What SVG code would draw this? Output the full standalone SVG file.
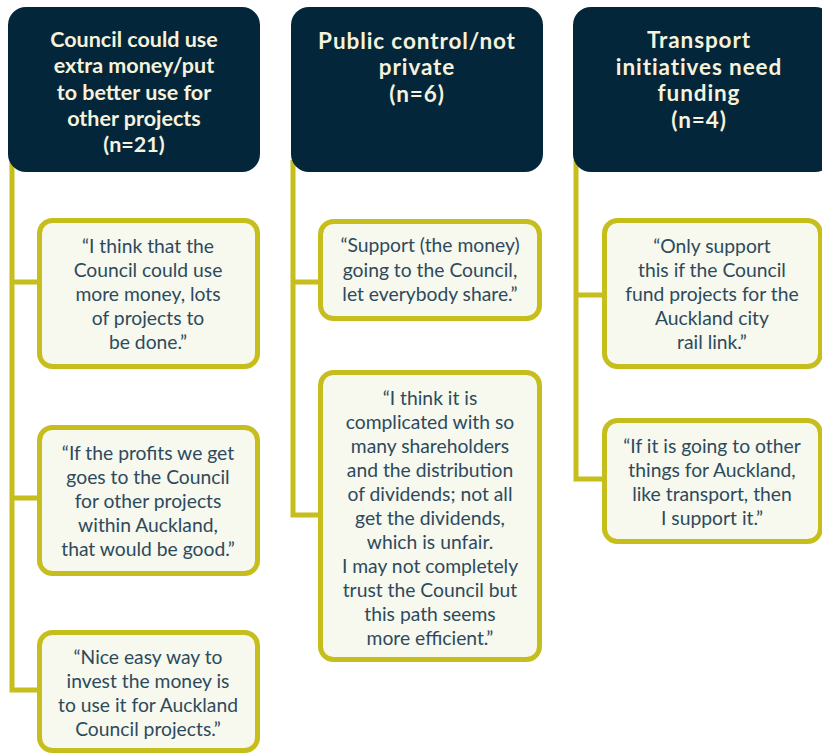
<svg xmlns="http://www.w3.org/2000/svg" width="822" height="755" viewBox="0 0 822 755">
<style>
.hdr{fill:#03263b}
.ht{font-family:Lato,"Open Sans","Liberation Sans",sans-serif;font-weight:700;font-size:21.5px;fill:#f6f2dc;text-anchor:middle}
.hb{font-size:22.5px;letter-spacing:0.9px}
.qb{fill:#f7f8ee;stroke:#c6be1c;stroke-width:5}
.qt{font-family:Lato,"Open Sans","Liberation Sans",sans-serif;font-weight:400;font-size:19.3px;fill:#2d4a5d;text-anchor:middle}
.ln{fill:none;stroke:#c6be1c;stroke-width:5;stroke-linejoin:miter}
</style>
<rect width="822" height="755" fill="#ffffff"/>
<g id="connectors">
<path class="ln" d="M12,160 V690 H40 M12,282 H40 M12,498 H40"/>
<path class="ln" d="M293,160 V515 H321 M293,282 H321"/>
<path class="ln" d="M576,160 V479 H605 M576,295 H605"/>
</g>
<g id="h1">
<rect class="hdr" x="8" y="7" width="252" height="165" rx="18"/>
<text class="ht"><tspan x="134" y="47">Council could use</tspan><tspan x="134" y="73">extra money/put</tspan><tspan x="134" y="100">to better use for</tspan><tspan x="134" y="126">other projects</tspan><tspan x="134" y="152">(n=21)</tspan></text>
</g>
<g id="h2">
<rect class="hdr" x="291" y="7" width="252" height="165" rx="18"/>
<text class="ht hb"><tspan x="417" y="49">Public control/not</tspan><tspan x="417" y="75">private</tspan><tspan x="417" y="102">(n=6)</tspan></text>
</g>
<g id="h3">
<rect class="hdr" x="573" y="7" width="260" height="165" rx="18"/>
<text class="ht hb"><tspan x="699" y="48">Transport</tspan><tspan x="699" y="75">initiatives need</tspan><tspan x="699" y="101">funding</tspan><tspan x="699" y="128">(n=4)</tspan></text>
</g>
<g id="q1a">
<rect class="qb" x="39.5" y="220.5" width="218" height="146" rx="13"/>
<text class="qt"><tspan x="148" y="253">“I think that the</tspan><tspan x="148" y="277">Council could use</tspan><tspan x="148" y="301">more money, lots</tspan><tspan x="148" y="325">of projects to</tspan><tspan x="148" y="349">be done.”</tspan></text>
</g>
<g id="q1b">
<rect class="qb" x="39.5" y="427.5" width="218" height="146" rx="13"/>
<text class="qt"><tspan x="148" y="460">“If the profits we get</tspan><tspan x="148" y="484">goes to the Council</tspan><tspan x="148" y="508">for other projects</tspan><tspan x="148" y="532">within Auckland,</tspan><tspan x="148" y="556">that would be good.”</tspan></text>
</g>
<g id="q1c">
<rect class="qb" x="39.5" y="632.5" width="218" height="118" rx="13"/>
<text class="qt"><tspan x="148" y="664">“Nice easy way to</tspan><tspan x="148" y="688">invest the money is</tspan><tspan x="148" y="712">to use it for Auckland</tspan><tspan x="148" y="736">Council projects.”</tspan></text>
</g>
<g id="q2a">
<rect class="qb" x="320.5" y="221.5" width="219" height="97" rx="13"/>
<text class="qt"><tspan x="430" y="252">“Support (the money)</tspan><tspan x="430" y="277">going to the Council,</tspan><tspan x="430" y="301">let everybody share.”</tspan></text>
</g>
<g id="q2b">
<rect class="qb" x="320.5" y="372.5" width="219" height="287" rx="13"/>
<text class="qt"><tspan x="430" y="405">“I think it is</tspan><tspan x="430" y="429">complicated with so</tspan><tspan x="430" y="453">many shareholders</tspan><tspan x="430" y="477">and the distribution</tspan><tspan x="430" y="501">of dividends; not all</tspan><tspan x="430" y="525">get the dividends,</tspan><tspan x="430" y="549">which is unfair.</tspan><tspan x="430" y="573">I may not completely</tspan><tspan x="430" y="597">trust the Council but</tspan><tspan x="430" y="621">this path seems</tspan><tspan x="430" y="645">more efficient.”</tspan></text>
</g>
<g id="q3a">
<rect class="qb" x="604.5" y="220.5" width="216" height="146" rx="13"/>
<text class="qt"><tspan x="712" y="253">“Only support</tspan><tspan x="712" y="277">this if the Council</tspan><tspan x="712" y="301">fund projects for the</tspan><tspan x="712" y="325">Auckland city</tspan><tspan x="712" y="349">rail link.”</tspan></text>
</g>
<g id="q3b">
<rect class="qb" x="604.5" y="420.5" width="216" height="121" rx="13"/>
<text class="qt"><tspan x="712" y="453">“If it is going to other</tspan><tspan x="712" y="477">things for Auckland,</tspan><tspan x="712" y="501">like transport, then</tspan><tspan x="712" y="525">I support it.”</tspan></text>
</g>
</svg>
